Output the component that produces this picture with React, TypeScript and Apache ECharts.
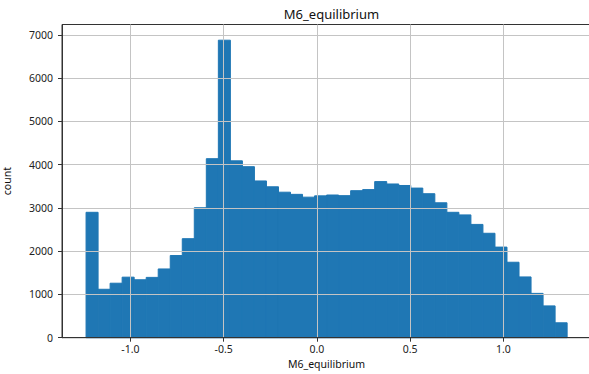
import React, { useEffect, useRef } from "react";
import * as echarts from "echarts";

// Histogram of M6_equilibrium: 40 equal-width bins
const binStart = -1.238;
const binWidth = 0.0645;
const counts = [
  2900, 1120, 1260, 1400, 1340, 1395, 1590, 1900, 2290, 3005,
  4140, 6880, 4090, 3955, 3625, 3490, 3365, 3315, 3250, 3280,
  3300, 3285, 3400, 3425, 3610, 3555, 3520, 3460, 3330, 3120,
  2900, 2840, 2620, 2415, 2095, 1745, 1405, 1025, 735, 345,
];
const xTicks = [-1.0, -0.5, 0.0, 0.5, 1.0];
const yTicks = [0, 1000, 2000, 3000, 4000, 5000, 6000, 7000];

const FONT = "'Noto Sans', 'Noto Sans CJK KR', sans-serif";
const BAR = "#1f77b4";

export default function App() {
  const ref = useRef<HTMLDivElement>(null);

  useEffect(() => {
    if (!ref.current) return;
    const chart = echarts.init(ref.current, undefined, { renderer: "svg" });

    const bins = counts.map((c, i) => [
      binStart + i * binWidth,
      binStart + (i + 1) * binWidth,
      c,
    ]);

    chart.setOption({
      animation: false,
      backgroundColor: "#ffffff",
      title: {
        text: "M6_equilibrium",
        left: 326.5,
        top: 2,
        textAlign: "center",
        textStyle: { fontFamily: FONT, fontSize: 13, fontWeight: "normal", color: "#111" },
      },
      grid: {
        left: 62,
        top: 24.5,
        width: 529,
        height: 313.2,
        containLabel: false,
        outerBoundsMode: "none",
        show: true,
        borderColor: "#333",
        borderWidth: 1,
        backgroundColor: "transparent",
      },
      xAxis: {
        type: "value",
        min: -1.367,
        max: 1.47,
        z: 5,
        name: "M6_equilibrium",
        nameLocation: "middle",
        nameGap: 20,
        nameTextStyle: { fontFamily: FONT, fontSize: 10.5, color: "#111" },
        axisLine: { show: true, onZero: false, lineStyle: { color: "#333", width: 1 } },
        axisTick: { show: true, length: 4, customValues: xTicks, lineStyle: { color: "#333" } },
        axisLabel: {
          customValues: xTicks,
          margin: 6,
          fontFamily: FONT,
          fontSize: 10.5,
          color: "#222",
          formatter: (v: number) => v.toFixed(1),
        },
        splitLine: { show: true, lineStyle: { color: "#c4c4c4", width: 1 } },
      },
      yAxis: {
        type: "value",
        min: 0,
        max: 7243,
        z: 5,
        name: "count",
        nameLocation: "middle",
        nameGap: 50,
        nameTextStyle: { fontFamily: FONT, fontSize: 10.5, color: "#111" },
        axisLine: { show: true, onZero: false, lineStyle: { color: "#333", width: 1 } },
        axisTick: { show: true, length: 4, customValues: yTicks, lineStyle: { color: "#333" } },
        axisLabel: {
          customValues: yTicks,
          margin: 9,
          fontFamily: FONT,
          fontSize: 10.5,
          color: "#222",
          formatter: (v: number) => String(v),
        },
        splitLine: { show: true, lineStyle: { color: "#c4c4c4", width: 1 } },
      },
      series: [
        {
          type: "custom",
          z: 2,
          data: bins,
          encode: { x: [0, 1], y: 2 },
          renderItem: (_params: any, api: any) => {
            const x0 = api.value(0);
            const x1 = api.value(1);
            const c = api.value(2);
            const top = api.coord([x0, c]);
            const bottom = api.coord([x1, 0]);
            return {
              type: "rect",
              shape: {
                x: top[0],
                y: top[1],
                width: bottom[0] - top[0],
                height: bottom[1] - top[1],
              },
              style: { fill: BAR, stroke: BAR, lineWidth: 1 },
            };
          },
        },
      ],
    });

    return () => chart.dispose();
  }, []);

  return (
    <div
      ref={ref}
      style={{ position: "fixed", left: 0, top: 0, width: 589, height: 374 }}
    />
  );
}
